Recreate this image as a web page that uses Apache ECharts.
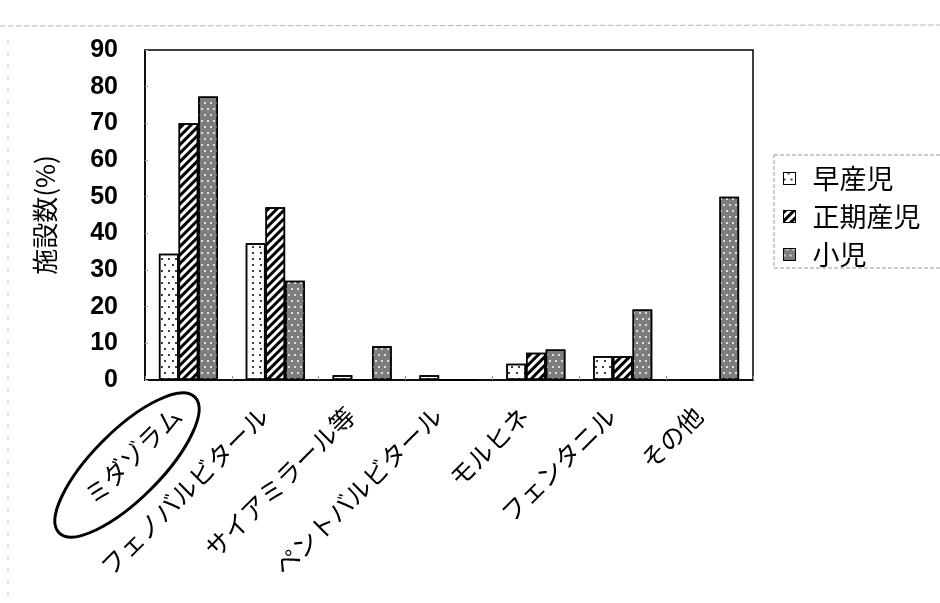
<!DOCTYPE html>
<html>
<head>
<meta charset="utf-8">
<script src="https://cdn.jsdelivr.net/npm/echarts@6/dist/echarts.min.js"></script>
<style>
  html, body { margin: 0; padding: 0; background: #fff; }
  #chart { width: 940px; height: 603px; }
</style>
</head>
<body>
<div id="chart"></div>
<script>
// Sedative / analgesic drugs used, share of facilities (%)
const categories = ['ミダゾラム', 'フェノバルビタール', 'サイアミラール等', 'ペントバルビタール', 'モルヒネ', 'フェンタニル', 'その他'];
const seriesNames = ['早産児', '正期産児', '小児'];
const preterm = [34.4, 37.3, 1.3, 1.3, 4.4, 6.5, 0];
const term = [70.0, 47.1, 0, 0, 7.4, 6.5, 0];
const child = [77.3, 27.1, 9.2, 0, 8.3, 19.2, 50.0];
const yTicks = [0, 10, 20, 30, 40, 50, 60, 70, 80, 90];

const jpFont = '"Noto Sans CJK JP", sans-serif';
const numFont = '"Liberation Sans", Arial, sans-serif';

// hatching for each group
const dotDecal = {
  symbol: 'circle', symbolSize: 1, color: '#000',
  dashArrayX: [[2, 5], [0, 3.5, 2, 1.5]], dashArrayY: [2, 4]
};
const stripeDecal = {
  symbol: 'rect', symbolSize: 1, color: '#000',
  dashArrayX: [1, 0], dashArrayY: [2.5, 2.5], rotation: -Math.PI / 4
};
const greyDotDecal = {
  symbol: 'circle', symbolSize: 1, color: '#fff',
  dashArrayX: [[2, 4], [0, 3, 2, 1]], dashArrayY: [2, 3.5]
};

function barSeries(name, data, fill, decal) {
  return {
    name: name,
    type: 'bar',
    data: data,
    barGap: '0%',
    barCategoryGap: '32%',
    itemStyle: { color: fill, borderColor: '#000', borderWidth: 1.5, decal: decal },
    emphasis: { disabled: true }
  };
}

const chart = echarts.init(document.getElementById('chart'), null, { renderer: 'canvas' });
chart.setOption({
  animation: false,
  backgroundColor: '#fff',
  grid: {
    left: 145, top: 50, right: 187, bottom: 223,
    show: true, borderColor: '#000', borderWidth: 1.5, backgroundColor: 'transparent'
  },
  legend: {
    orient: 'vertical',
    left: 774, top: 155,
    padding: [10, 60, 0, 9],
    itemWidth: 12, itemHeight: 12, itemGap: 11,
    icon: 'rect',
    borderColor: '#999', borderWidth: 1, borderType: 'dashed',
    textStyle: { fontFamily: jpFont, fontSize: 27, color: '#000', lineHeight: 24, padding: [0, 0, 0, 12] },
    itemStyle: { borderColor: '#000', borderWidth: 1 },
    data: seriesNames
  },
  xAxis: {
    type: 'category',
    data: categories,
    axisLine: { show: true, lineStyle: { color: '#000', width: 1.5 } },
    axisTick: { show: true, inside: true, length: 4, lineStyle: { color: '#999' } },
    axisLabel: {
      interval: 0, rotate: 45, margin: 20,
      padding: [0, 16, 0, 0],
      fontFamily: jpFont, fontSize: 25, color: '#000'
    },
    splitLine: { show: false }
  },
  yAxis: {
    type: 'value',
    min: yTicks[0], max: yTicks[yTicks.length - 1], interval: 10,
    name: '施設数(%)',
    nameLocation: 'middle', nameRotate: 90, nameGap: 87,
    nameTextStyle: { fontFamily: jpFont, fontSize: 26, color: '#000' },
    axisLine: { show: true, lineStyle: { color: '#000', width: 1.5 } },
    axisTick: { show: true, inside: true, length: 3, lineStyle: { color: '#aaa' } },
    axisLabel: {
      margin: 27, fontFamily: numFont, fontWeight: 'bold', fontSize: 25, color: '#000'
    },
    splitLine: { show: false }
  },
  series: [
    barSeries(seriesNames[0], preterm, '#fff', dotDecal),
    barSeries(seriesNames[1], term, '#fff', stripeDecal),
    barSeries(seriesNames[2], child, '#7d7d7d', greyDotDecal)
  ],
  graphic: [
    // hand-drawn ring around the first drug name
    {
      type: 'ellipse',
      x: 127, y: 465,
      rotation: 45 * Math.PI / 180,
      shape: { cx: 0, cy: 0, rx: 96, ry: 34 },
      style: { fill: 'none', stroke: '#000', lineWidth: 3 },
      silent: true
    },
    // page edges
    {
      type: 'line',
      shape: { x1: 0, y1: 26, x2: 940, y2: 25 },
      style: { stroke: '#bbb', lineWidth: 1, lineDash: [6, 2] },
      silent: true
    },
    {
      type: 'line',
      shape: { x1: 8, y1: 40, x2: 8, y2: 603 },
      style: { stroke: '#ccc', lineWidth: 1, lineDash: [4, 8] },
      silent: true
    }
  ]
});
</script>
</body>
</html>
